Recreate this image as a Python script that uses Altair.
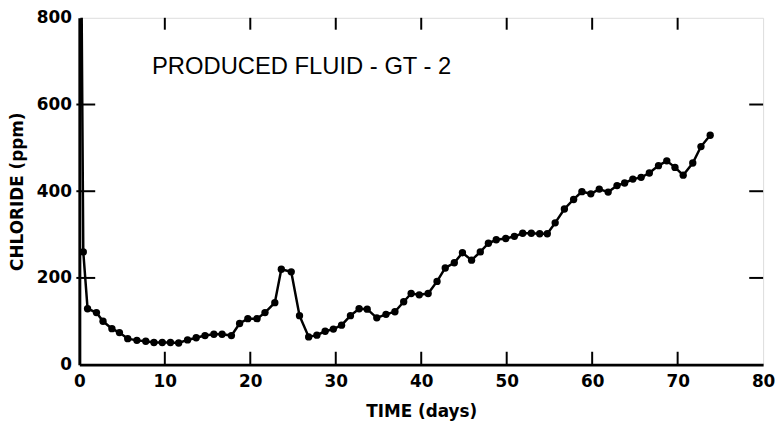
import altair as alt
import pandas as pd

# (days, chloride ppm)
days = [0.24, 0.46, 0.96, 2.0, 2.77, 3.81, 4.69, 5.66, 6.73, 7.77, 8.73, 9.70, 10.66, 11.62,
        12.66, 13.67, 14.70, 15.74, 16.70, 17.79, 18.75, 19.71, 20.79, 21.72, 22.87, 23.63,
        24.79, 25.76, 26.83, 27.79, 28.76, 29.72, 30.68, 31.72, 32.73, 33.68, 34.80, 35.88,
        36.92, 37.95, 38.82, 39.77, 40.81, 41.85, 42.81, 43.87, 44.82, 45.89, 46.91, 47.86,
        48.78, 49.89, 50.90, 51.87, 52.88, 53.86, 54.75, 55.67, 56.75, 57.83, 58.80, 59.84,
        60.83, 61.87, 62.91, 63.80, 64.76, 65.73, 66.69, 67.76, 68.73, 69.69, 70.65, 71.77,
        72.73, 73.81]
chloride = [900, 260, 129, 120, 100, 83, 74, 60, 56, 54, 51, 51, 51, 50,
            57, 62, 67, 70, 70, 67, 95, 106, 106, 120, 143, 220,
            214, 113, 64, 68, 77, 82, 91, 113, 129, 128, 108, 116,
            122, 145, 164, 161, 164, 192, 223, 235, 258, 241, 260, 280,
            288, 291, 296, 303, 303, 302, 302, 327, 359, 381, 399, 394,
            405, 398, 413, 419, 428, 432, 442, 459, 470, 455, 437, 465,
            503, 529]

x_ticks = [10, 20, 30, 40, 50, 60, 70]
y_ticks = [200, 400, 600]
x_labels = [0, 10, 20, 30, 40, 50, 60, 70, 80]
y_labels = [0, 200, 400, 600, 800]
title_text = "PRODUCED FLUID - GT - 2"

W, H = 690, 350
FONT = "DejaVu Sans"

df = pd.DataFrame({"day": days, "cl": chloride})
xt = pd.DataFrame({"v": x_ticks})
yt = pd.DataFrame({"v": y_ticks})

xscale = alt.Scale(domain=[0, 80], nice=False, zero=False)
yscale = alt.Scale(domain=[0, 800], nice=False, zero=False)

base = alt.Chart(df)

line = base.mark_line(color="black", strokeWidth=2.5, clip=True).encode(
    x=alt.X("day:Q", scale=xscale,
            axis=alt.Axis(title="TIME (days)", values=x_labels, tickSize=0, grid=False,
                          domainColor="black", domainWidth=3, labelPadding=9,
                          labelFontSize=17, labelFont=FONT, labelFontWeight="bold",
                          labelColor="black", titleFont=FONT, titleFontSize=17,
                          titleFontWeight="bold", titleColor="black", titlePadding=14,
                          labelFlush=False)),
    y=alt.Y("cl:Q", scale=yscale,
            axis=alt.Axis(title="CHLORIDE (ppm)", values=y_labels, tickSize=0, grid=False,
                          domainColor="black", domainWidth=3, labelPadding=8,
                          labelFontSize=17, labelFont=FONT, labelFontWeight="bold",
                          labelColor="black", titleFont=FONT, titleFontSize=17,
                          titleFontWeight="bold", titleColor="black", titlePadding=10,
                          labelFlush=False)),
)

pts = base.mark_circle(color="black", size=55, opacity=1, clip=True).encode(
    x=alt.X("day:Q", scale=xscale),
    y=alt.Y("cl:Q", scale=yscale),
)

bottom_ticks = alt.Chart(xt).mark_rule(color="black", strokeWidth=2).encode(
    x=alt.X("v:Q", scale=xscale), y=alt.value(H), y2=alt.value(H - 13))
top_ticks = alt.Chart(xt).mark_rule(color="black", strokeWidth=2).encode(
    x=alt.X("v:Q", scale=xscale), y=alt.value(0), y2=alt.value(12))
left_ticks = alt.Chart(yt).mark_rule(color="black", strokeWidth=2).encode(
    y=alt.Y("v:Q", scale=yscale), x=alt.value(-3), x2=alt.value(16))
right_ticks = alt.Chart(yt).mark_rule(color="black", strokeWidth=2).encode(
    y=alt.Y("v:Q", scale=yscale), x=alt.value(W - 14), x2=alt.value(W))

title = alt.Chart(pd.DataFrame({"t": [title_text]})).mark_text(
    font="Liberation Sans", fontSize=24, color="black", align="left", baseline="middle"
).encode(x=alt.datum(8.5), y=alt.datum(686), text="t:N")

chart = alt.layer(line, pts, bottom_ticks, top_ticks, left_ticks, right_ticks, title).properties(
    width=W, height=H,
    autosize=alt.AutoSizeParams(type="none"),
    padding={"left": 72, "top": 8, "right": 12, "bottom": 57},
).configure_view(stroke="black", strokeWidth=2.5).configure(background="white")

chart.save("out.html", embed_options={"renderer": "svg", "actions": False})
